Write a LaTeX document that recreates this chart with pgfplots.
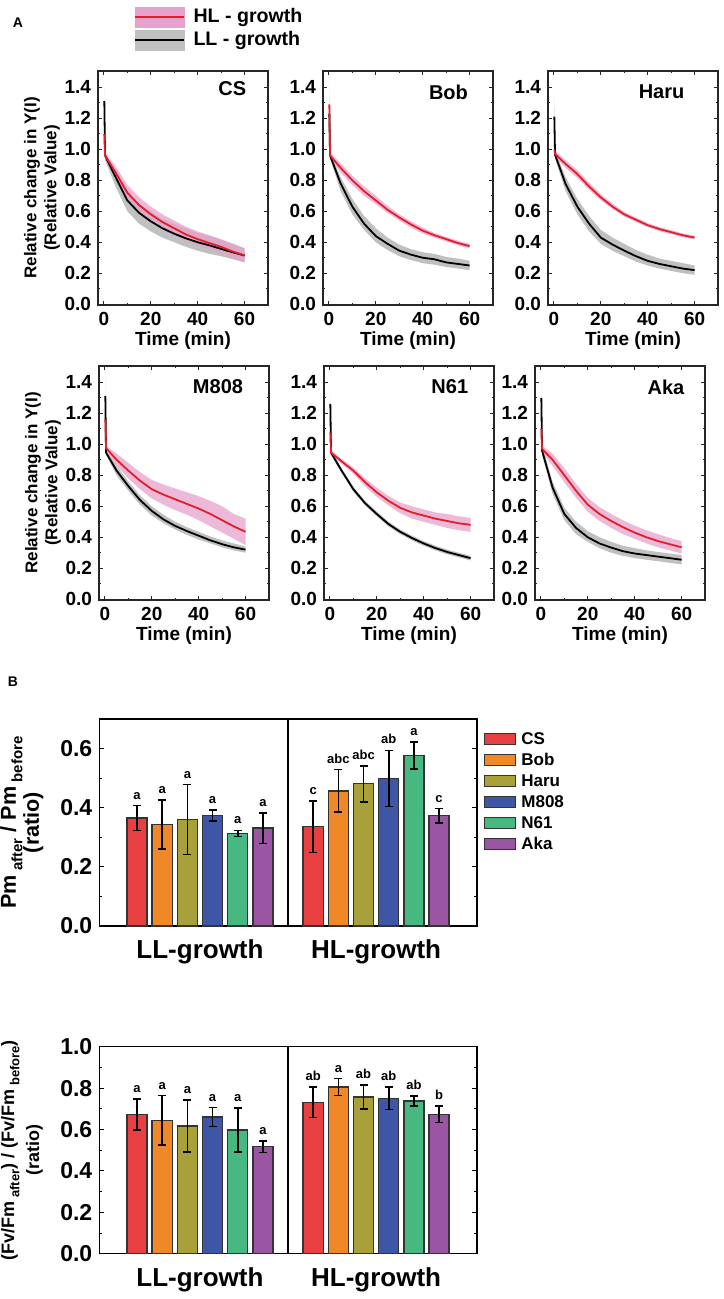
\documentclass[border=0pt]{standalone}
\usepackage{fontspec}
\setmainfont{Liberation Sans}
\usepackage{graphicx}
\usepackage{pgfplots}
\pgfplotsset{compat=1.18}
\usepackage{pgfplotstable}

\definecolor{pinkband}{RGB}{230,162,204}
\definecolor{grayband}{RGB}{192,192,192}
\definecolor{redline}{RGB}{228,30,40}
\definecolor{cCS}{RGB}{232,64,64}
\definecolor{cBob}{RGB}{240,136,40}
\definecolor{cHaru}{RGB}{168,160,56}
\definecolor{cM}{RGB}{61,87,166}
\definecolor{cN}{RGB}{70,184,128}
\definecolor{cAka}{RGB}{155,86,163}

% ---------- Panel A mean curves: t mean ----------
\pgfplotstableread{
t m
0.2 1.10
0.5 0.96
5 0.85
10 0.72
15 0.64
20 0.58
25 0.53
30 0.49
35 0.45
40 0.42
45 0.395
50 0.37
55 0.34
60 0.315
}\csHL
\pgfplotstableread{
t m
0.2 1.31
0.5 0.96
5 0.82
10 0.67
15 0.59
20 0.535
25 0.49
30 0.455
35 0.425
40 0.40
45 0.38
50 0.357
55 0.335
60 0.314
}\csLL
\pgfplotstableread{
t m
0.2 1.29
0.5 0.96
5 0.88
10 0.80
15 0.73
20 0.67
25 0.61
30 0.56
35 0.515
40 0.475
45 0.445
50 0.42
55 0.395
60 0.375
}\bobHL
\pgfplotstableread{
t m
0.2 1.23
0.5 0.96
5 0.78
10 0.63
15 0.52
20 0.44
25 0.39
30 0.346
35 0.32
40 0.30
45 0.29
50 0.27
55 0.26
60 0.25
}\bobLL
\pgfplotstableread{
t m
0.2 1.00
0.5 0.97
5 0.905
10 0.84
15 0.76
20 0.69
25 0.63
30 0.58
35 0.545
40 0.51
45 0.485
50 0.465
55 0.445
60 0.43
}\haruHL
\pgfplotstableread{
t m
0.2 1.21
0.5 0.965
5 0.776
10 0.63
15 0.52
20 0.43
25 0.385
30 0.346
35 0.31
40 0.28
45 0.26
50 0.245
55 0.23
60 0.22
}\haruLL
\pgfplotstableread{
t m
0.2 1.16
0.5 0.975
5 0.90
10 0.83
15 0.765
20 0.71
25 0.675
30 0.645
35 0.615
40 0.585
45 0.55
50 0.51
55 0.47
60 0.435
}\mHL
\pgfplotstableread{
t m
0.2 1.31
0.5 0.946
5 0.83
10 0.73
15 0.64
20 0.57
25 0.515
30 0.473
35 0.44
40 0.41
45 0.38
50 0.355
55 0.335
60 0.32
}\mLL
\pgfplotstableread{
t m
0.2 1.075
0.5 0.946
5 0.89
10 0.83
15 0.755
20 0.69
25 0.635
30 0.59
35 0.56
40 0.54
45 0.52
50 0.505
55 0.49
60 0.48
}\nHL
\pgfplotstableread{
t m
0.2 1.26
0.5 0.946
5 0.83
10 0.71
15 0.62
20 0.55
25 0.485
30 0.435
35 0.395
40 0.36
45 0.33
50 0.305
55 0.285
60 0.265
}\nLL
\pgfplotstableread{
t m
0.2 1.10
0.5 0.97
5 0.90
10 0.80
15 0.70
20 0.61
25 0.55
30 0.505
35 0.465
40 0.43
45 0.40
50 0.375
55 0.355
60 0.335
}\akaHL
\pgfplotstableread{
t m
0.2 1.30
0.5 0.96
5 0.72
10 0.55
15 0.46
20 0.40
25 0.36
30 0.333
35 0.31
40 0.295
45 0.285
50 0.275
55 0.265
60 0.255
}\akaLL

% #1 HL mean table, #2 LL mean table, #3 HL band polygon, #4 LL band polygon
\newcommand{\curvepair}[4]{%
 \addplot[fill=grayband, draw=none, forget plot] coordinates {#4};
 \addplot[fill=pinkband, fill opacity=0.75, draw=none, forget plot] coordinates {#3};
 \addplot[black, line width=0.9pt, forget plot] table[x=t,y=m]{#2};
 \addplot[redline, line width=0.9pt, forget plot] table[x=t,y=m]{#1};
}

\newcommand{\subA}[1]{\raisebox{-0.3em}{\fontsize{7.5}{7.5}\selectfont\ #1}}
\newcommand{\subB}[1]{\raisebox{-0.3em}{\fontsize{6.5}{6.5}\selectfont\ #1}}

\pgfplotsset{
 pA/.style={
  scale only axis, width=85pt, height=117pt,
  xmin=-2.5, xmax=70, ymin=-0.005, ymax=1.505,
  xtick={0,20,40,60}, minor xtick={10,30,50},
  ytick={0,0.2,0.4,0.6,0.8,1.0,1.2,1.4},
  minor ytick={0.1,0.3,0.5,0.7,0.9,1.1,1.3},
  major tick length=2pt, minor tick length=1pt,
  tick align=inside,
  axis line style={line width=0.6pt, black!85},
  tick style={black!85, line width=0.5pt},
  /pgf/number format/assume math mode=true,
  yticklabel style={/pgf/number format/.cd, fixed, fixed zerofill, precision=1},
  tick label style={font=\fontsize{9.5}{10}\selectfont\bfseries},
  xlabel={Time (min)},
  xlabel style={at={(axis description cs:0.5,-0.15)}, anchor=center, font=\fontsize{9.5}{11}\selectfont\bfseries},
 },
 yA/.style={
  ylabel={Relative change in Y(I)\\(Relative Value)},
  ylabel style={align=center, at={(axis description cs:-0.33,0.5)}, anchor=center,
   font=\fontsize{8.5}{10}\selectfont\bfseries},
 },
 pB/.style={
  scale only axis, width=188.75pt, height=103.5pt,
  xmin=-1.5, xmax=13.5, ymin=0,
  xtick={2.5,9.5}, xticklabels={LL-growth,HL-growth},
  x tick style={draw=none},
  xticklabel style={font=\fontsize{13}{15}\selectfont\bfseries, yshift=-3.5pt},
  /pgf/number format/assume math mode=true,
  yticklabel style={font=\fontsize{11.5}{13}\selectfont\bfseries,
   /pgf/number format/.cd, fixed, fixed zerofill, precision=1},
  major tick length=2.5pt, minor tick length=1.5pt, tick align=inside,
  axis line style={line width=0.7pt},
  tick style={line width=0.5pt, black},
  bar width=0.8,
  ylabel style={align=center, at={(axis description cs:-0.205,0.5)}, anchor=center, inner sep=0pt},
 },
 barst/.style={ybar, bar shift=0pt, fill=#1, draw=black!80, line width=0.7pt,
   error bars/y dir=both, error bars/y explicit,
   error bars/error bar style={black, line width=0.8pt},
   error bars/error mark options={rotate=90, mark size=2pt, black, line width=0.8pt}},
 lett/.style={only marks, mark=*, mark size=0pt, mark options={draw=none, fill=none},
   nodes near coords, point meta=explicit symbolic, forget plot,
   nodes near coords style={font=\fontsize{6.5}{7}\selectfont\bfseries, anchor=south, inner sep=0.5pt, yshift=2.5pt, black}},
}

\begin{document}
\begin{tikzpicture}
\node[font=\fontsize{7}{8}\selectfont\bfseries] at (9pt,-11.5pt) {A};
\node[font=\fontsize{7}{8}\selectfont\bfseries] at (6.5pt,-341pt) {B};

% CS
\begin{axis}[pA, yA, at={(49pt,-152.5pt)}, anchor=south west,
  legend style={at={(rel axis cs:0.21,1.282)}, anchor=north west, draw=none, fill=none,
   inner sep=0pt, font=\fontsize{9.8}{12}\selectfont\bfseries, row sep=0pt,
   nodes={inner sep=0.9pt, text height=7.5pt, text depth=2.2pt}, legend cell align=left,
   /tikz/every odd column/.append style={column sep=3pt}}]
\curvepair{\csHL}{\csLL}
 {(0.2,1.15)(0.5,0.98)(5,0.89)(10,0.77)(15,0.69)(20,0.63)(25,0.58)(30,0.54)(35,0.50)(40,0.47)(45,0.445)(50,0.42)(55,0.39)(60,0.36)
  (60,0.27)(55,0.30)(50,0.33)(45,0.355)(40,0.38)(35,0.41)(30,0.45)(25,0.49)(20,0.54)(15,0.60)(10,0.68)(5,0.82)(0.5,0.94)(0.2,1.05)}
 {(0.2,1.40)(0.5,0.98)(5,0.86)(10,0.73)(15,0.65)(20,0.60)(25,0.55)(30,0.52)(35,0.49)(40,0.46)(45,0.44)(50,0.415)(55,0.39)(60,0.36)
  (60,0.27)(55,0.29)(50,0.31)(45,0.325)(40,0.345)(35,0.37)(30,0.40)(25,0.43)(20,0.47)(15,0.52)(10,0.60)(5,0.76)(0.5,0.93)(0.2,1.22)}
\addlegendimage{legend image code/.code={\fill[pinkband] (0pt,-5pt) rectangle (24.5pt,5pt); \draw[redline, line width=1.3pt] (0pt,0pt) -- (24.5pt,0pt);}}
\addlegendentry{HL - growth}
\addlegendimage{legend image code/.code={\fill[grayband] (0pt,-5pt) rectangle (24.5pt,5pt); \draw[black, line width=1.3pt] (0pt,0pt) -- (24.5pt,0pt);}}
\addlegendentry{LL - growth}
\node[font=\fontsize{10}{12}\selectfont\bfseries] at (rel axis cs:0.79,0.925) {CS};
\end{axis}

% Bob
\begin{axis}[pA, at={(161.5pt,-152.5pt)}, anchor=south west]
\curvepair{\bobHL}{\bobLL}
 {(0.2,1.46)(0.5,0.98)(5,0.91)(10,0.83)(15,0.76)(20,0.70)(25,0.635)(30,0.58)(35,0.535)(40,0.495)(45,0.46)(50,0.435)(55,0.41)(60,0.39)
  (60,0.36)(55,0.38)(50,0.405)(45,0.43)(40,0.455)(35,0.495)(30,0.54)(25,0.59)(20,0.645)(15,0.70)(10,0.77)(5,0.85)(0.5,0.94)(0.2,1.10)}
 {(0.2,1.30)(0.5,0.98)(5,0.82)(10,0.68)(15,0.57)(20,0.49)(25,0.43)(30,0.385)(35,0.355)(40,0.335)(45,0.325)(50,0.305)(55,0.295)(60,0.28)
  (60,0.22)(55,0.23)(50,0.24)(45,0.255)(40,0.265)(35,0.285)(30,0.31)(25,0.35)(20,0.40)(15,0.48)(10,0.58)(5,0.73)(0.5,0.94)(0.2,1.15)}
\node[font=\fontsize{10}{12}\selectfont\bfseries] at (rel axis cs:0.738,0.91) {Bob};
\end{axis}

% Haru
\begin{axis}[pA, at={(274pt,-152.5pt)}, anchor=south west]
\curvepair{\haruHL}{\haruLL}
 {(0.2,1.02)(0.5,0.99)(5,0.93)(10,0.865)(15,0.785)(20,0.71)(25,0.65)(30,0.595)(35,0.56)(40,0.523)(45,0.498)(50,0.478)(55,0.457)(60,0.442)
  (60,0.418)(55,0.433)(50,0.452)(45,0.472)(40,0.497)(35,0.53)(30,0.565)(25,0.615)(20,0.67)(15,0.74)(10,0.815)(5,0.88)(0.5,0.95)(0.2,0.98)}
 {(0.2,1.35)(0.5,0.99)(5,0.82)(10,0.68)(15,0.57)(20,0.48)(25,0.43)(30,0.39)(35,0.35)(40,0.32)(45,0.295)(50,0.28)(55,0.265)(60,0.25)
  (60,0.19)(55,0.20)(50,0.215)(45,0.23)(40,0.25)(35,0.275)(30,0.31)(25,0.345)(20,0.39)(15,0.47)(10,0.58)(5,0.73)(0.5,0.94)(0.2,1.10)}
\node[font=\fontsize{10}{12}\selectfont\bfseries] at (rel axis cs:0.668,0.91) {Haru};
\end{axis}

% M808
\begin{axis}[pA, yA, at={(49.5pt,-300pt)}, anchor=south west]
\curvepair{\mHL}{\mLL}
 {(0.2,1.22)(0.5,0.99)(5,0.94)(10,0.88)(15,0.82)(20,0.77)(25,0.74)(30,0.715)(35,0.69)(40,0.665)(45,0.635)(50,0.60)(55,0.55)(60,0.52)
  (60,0.35)(55,0.39)(50,0.43)(45,0.47)(40,0.51)(35,0.545)(30,0.575)(25,0.61)(20,0.65)(15,0.71)(10,0.78)(5,0.86)(0.5,0.96)(0.2,1.10)}
 {(0.2,1.44)(0.5,0.96)(5,0.86)(10,0.76)(15,0.67)(20,0.60)(25,0.545)(30,0.50)(35,0.465)(40,0.435)(45,0.405)(50,0.38)(55,0.36)(60,0.34)
  (60,0.30)(55,0.315)(50,0.335)(45,0.36)(40,0.385)(35,0.415)(30,0.45)(25,0.49)(20,0.54)(15,0.61)(10,0.70)(5,0.80)(0.5,0.93)(0.2,1.20)}
\node[font=\fontsize{10}{12}\selectfont\bfseries] at (rel axis cs:0.70,0.91) {M808};
\end{axis}

% N61
\begin{axis}[pA, at={(162pt,-300pt)}, anchor=south west]
\curvepair{\nHL}{\nLL}
 {(0.2,1.10)(0.5,0.96)(5,0.905)(10,0.85)(15,0.78)(20,0.72)(25,0.665)(30,0.625)(35,0.60)(40,0.58)(45,0.56)(50,0.55)(55,0.535)(60,0.525)
  (60,0.435)(55,0.445)(50,0.46)(45,0.48)(40,0.50)(35,0.52)(30,0.555)(25,0.605)(20,0.66)(15,0.73)(10,0.81)(5,0.875)(0.5,0.93)(0.2,1.05)}
 {(0.2,1.32)(0.5,0.96)(5,0.845)(10,0.725)(15,0.635)(20,0.565)(25,0.50)(30,0.45)(35,0.41)(40,0.375)(45,0.345)(50,0.32)(55,0.30)(60,0.28)
  (60,0.25)(55,0.27)(50,0.29)(45,0.315)(40,0.345)(35,0.38)(30,0.42)(25,0.47)(20,0.535)(15,0.605)(10,0.695)(5,0.815)(0.5,0.93)(0.2,1.20)}
\node[font=\fontsize{10}{12}\selectfont\bfseries] at (rel axis cs:0.74,0.91) {N61};
\end{axis}

% Aka
\begin{axis}[pA, at={(267.5pt,-300pt)}, anchor=south west]
\curvepair{\akaHL}{\akaLL}
 {(0.2,1.20)(0.5,0.99)(5,0.94)(10,0.845)(15,0.745)(20,0.655)(25,0.595)(30,0.55)(35,0.51)(40,0.475)(45,0.445)(50,0.42)(55,0.395)(60,0.375)
  (60,0.295)(55,0.315)(50,0.335)(45,0.36)(40,0.39)(35,0.42)(30,0.46)(25,0.505)(20,0.565)(15,0.655)(10,0.755)(5,0.86)(0.5,0.95)(0.2,1.00)}
 {(0.2,1.40)(0.5,0.99)(5,0.76)(10,0.59)(15,0.50)(20,0.44)(25,0.40)(30,0.37)(35,0.345)(40,0.33)(45,0.315)(50,0.305)(55,0.295)(60,0.285)
  (60,0.225)(55,0.235)(50,0.245)(45,0.255)(40,0.265)(35,0.28)(30,0.30)(25,0.33)(20,0.37)(15,0.42)(10,0.51)(5,0.68)(0.5,0.93)(0.2,1.20)}
\node[font=\fontsize{10}{12}\selectfont\bfseries] at (rel axis cs:0.77,0.91) {Aka};
\end{axis}

% B top: Pm ratio
\begin{axis}[pB, at={(49.65pt,-463pt)}, anchor=south west, ymax=0.7,
  ytick={0,0.2,0.4,0.6}, minor ytick={0.1,0.3,0.5},
  ylabel={Pm\subA{after} / Pm\subA{before}\\(ratio)},
  ylabel style={font=\fontsize{10.8}{11.5}\selectfont\bfseries},
  legend style={at={(rel axis cs:1.018,0.955)}, anchor=north west, draw=none, fill=none,
   inner sep=0pt, font=\fontsize{8.5}{10}\selectfont\bfseries, row sep=0pt,
   nodes={inner sep=1pt, text height=7pt, text depth=1.5pt}, legend cell align=left,
   /tikz/every odd column/.append style={column sep=1.5pt}},
  legend image code/.code={\draw[#1] (0pt,-2.75pt) rectangle (15.5pt,2.75pt);}]
\addplot[barst=cCS] coordinates {(0,0.365) +- (0,0.042) (7,0.336) +- (0,0.087)};
\addlegendentry{CS}
\addplot[barst=cBob] coordinates {(1,0.343) +- (0,0.083) (8,0.457) +- (0,0.072)};
\addlegendentry{Bob}
\addplot[barst=cHaru] coordinates {(2,0.360) +- (0,0.118) (9,0.481) +- (0,0.061)};
\addlegendentry{Haru}
\addplot[barst=cM] coordinates {(3,0.374) +- (0,0.018) (10,0.499) +- (0,0.095)};
\addlegendentry{M808}
\addplot[barst=cN] coordinates {(4,0.313) +- (0,0.010) (11,0.576) +- (0,0.046)};
\addlegendentry{N61}
\addplot[barst=cAka] coordinates {(5,0.331) +- (0,0.052) (12,0.373) +- (0,0.024)};
\addlegendentry{Aka}
\addplot[lett] coordinates {(0,0.407) [a] (1,0.426) [a] (2,0.478) [a] (3,0.392) [a] (4,0.323) [a] (5,0.383) [a]
 (7,0.423) [c] (8,0.529) [abc] (9,0.542) [abc] (10,0.594) [ab] (11,0.622) [a] (12,0.397) [c]};
\addplot[black, line width=0.8pt, forget plot] coordinates {(6,0) (6,0.7)};
\end{axis}

% B bottom: Fv/Fm ratio
\begin{axis}[pB, at={(49.65pt,-626.85pt)}, anchor=south west, ymax=1.0,
  ytick={0,0.2,0.4,0.6,0.8,1.0}, minor ytick={0.1,0.3,0.5,0.7,0.9},
  ylabel={(Fv/Fm\subB{after}) / (Fv/Fm\subB{before})\\(ratio)},
  ylabel style={font=\fontsize{9}{12.5}\selectfont\bfseries}]
\addplot[barst=cCS] coordinates {(0,0.673) +- (0,0.075) (7,0.731) +- (0,0.073)};
\addplot[barst=cBob] coordinates {(1,0.644) +- (0,0.120) (8,0.805) +- (0,0.041)};
\addplot[barst=cHaru] coordinates {(2,0.617) +- (0,0.125) (9,0.758) +- (0,0.058)};
\addplot[barst=cM] coordinates {(3,0.660) +- (0,0.046) (10,0.751) +- (0,0.054)};
\addplot[barst=cN] coordinates {(4,0.598) +- (0,0.106) (11,0.738) +- (0,0.024)};
\addplot[barst=cAka] coordinates {(5,0.517) +- (0,0.028) (12,0.673) +- (0,0.040)};
\addplot[lett] coordinates {(0,0.748) [a] (1,0.764) [a] (2,0.742) [a] (3,0.706) [a] (4,0.704) [a] (5,0.545) [a]
 (7,0.804) [ab] (8,0.846) [a] (9,0.816) [ab] (10,0.805) [ab] (11,0.762) [ab] (12,0.713) [b]};
\addplot[black, line width=0.8pt, forget plot] coordinates {(6,0) (6,1.0)};
\end{axis}
\pgfresetboundingbox
\path (0pt,0pt) rectangle (361.5pt,-649.5pt);
\end{tikzpicture}
\end{document}
